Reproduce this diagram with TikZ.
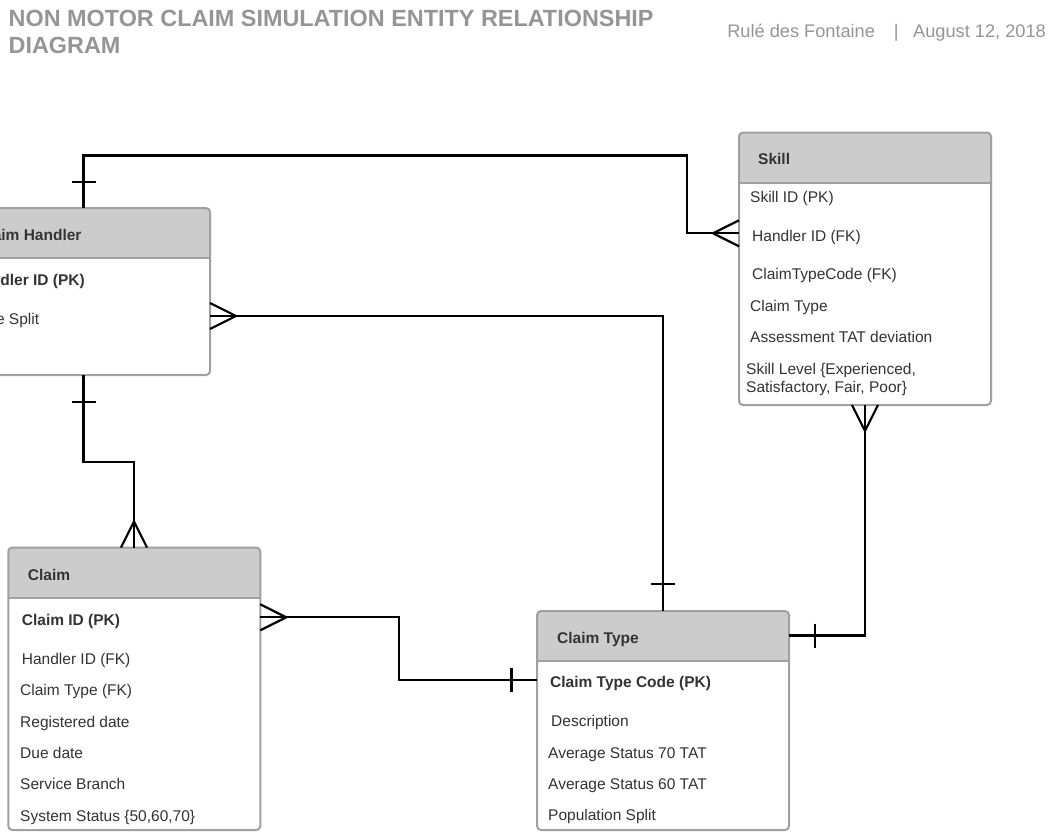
\documentclass[tikz,border=0pt]{standalone}
\usepackage{fontspec}
\setmainfont{Liberation Sans}
\usetikzlibrary{calc}

\definecolor{inkgray}{HTML}{333333}
\definecolor{headgray}{HTML}{CCCCCC}
\definecolor{edgegray}{HTML}{A0A0A0}
\definecolor{titlegray}{HTML}{959595}

\tikzset{
  entity/.style={rectangle, draw=edgegray, line width=2pt, rounded corners=4pt,
    fill=white, anchor=north west, inner sep=0pt, outer sep=0pt,
    minimum width=252pt,
    path picture={
      \fill[headgray, sharp corners] (path picture bounding box.north west)
        rectangle ([yshift=-50pt]path picture bounding box.north east);
      \draw[edgegray, line width=2pt, sharp corners]
        ([yshift=-50pt]path picture bounding box.north west) --
        ([yshift=-50pt]path picture bounding box.north east);}},
  conn/.style={draw=black, line width=2.2pt},
  attr/.style={anchor=base west, inner sep=0pt, text=inkgray,
    font=\fontsize{15.5}{17.8}\selectfont},
  pkattr/.style={attr, font=\fontsize{15.5}{17.8}\selectfont\bfseries},
  crowfoot/.pic={\draw[conn] (-26,0) -- (0,13) (-26,0) -- (0,-13);},
  barmark/.pic={\draw[conn] (0,-12) -- (0,12);},
}

\begin{document}
\begin{tikzpicture}[x=1pt, y=-1pt]
\useasboundingbox (0,0) rectangle (1059,832);
\clip (0,0) rectangle (1059,832);

% heading
\node[anchor=base west, inner sep=0pt, text=titlegray,
      font=\fontsize{23.4}{27}\selectfont\bfseries] (title1) at (8.5,26.5)
      {NON MOTOR CLAIM SIMULATION ENTITY RELATIONSHIP};
\node[anchor=base west, inner sep=0pt, text=titlegray,
      font=\fontsize{23.4}{27}\selectfont\bfseries] (title2) at (8.5,53.3)
      {DIAGRAM};
\node[anchor=base east, inner sep=0pt, text=titlegray,
      font=\fontsize{18.2}{21}\selectfont] (byline) at (1046,37.3)
      {Rulé des Fontaine\hspace{19pt}|\hspace{14.5pt}August 12, 2018};

% entity boxes
\node[entity, minimum height=167pt]   (handler) at (-42,208)   {};
\node[entity, minimum height=272.5pt] (skill)   at (739,132.5) {};
\node[entity, minimum height=219pt]   (ctype)   at (537,611)   {};
\node[entity, minimum height=282.5pt] (claim)   at (8.3,547.5) {};

% Claim Handler (left part runs off the page)
\node[pkattr, anchor=base east] (hT) at (81.7,240.5) {Claim Handler};
\node[pkattr, anchor=base east] (h1) at (85,285.5) {Handler ID (PK)};
\node[attr, anchor=base east]   (h2) at (39.3,324) {e Split};

% Skill
\node[pkattr] (sT) at (758,164.5) {Skill};
\node[attr] (s1) at (750,202)   {Skill ID (PK)};
\node[attr] (s2) at (752,241)   {Handler ID (FK)};
\node[attr] (s3) at (752,279.5) {ClaimTypeCode (FK)};
\node[attr] (s4) at (750,311)   {Claim Type};
\node[attr] (s5) at (750,342.5) {Assessment TAT deviation};
\node[attr] (s6) at (746,374.5) {Skill Level \{Experienced,};
\node[attr] (s7) at (746,392)   {Satisfactory, Fair, Poor\}};

% Claim Type
\node[pkattr] (cT) at (557,643)   {Claim Type};
\node[pkattr] (c1) at (550,687)   {Claim Type Code (PK)};
\node[attr]   (c2) at (551,726.5) {Description};
\node[attr]   (c3) at (548,758)   {Average Status 70 TAT};
\node[attr]   (c4) at (548,789)   {Average Status 60 TAT};
\node[attr]   (c5) at (548,820.5) {Population Split};

% Claim
\node[pkattr] (kT) at (27.7,580) {Claim};
\node[pkattr] (k1) at (21.7,625) {Claim ID (PK)};
\node[attr]   (k2) at (21.7,664) {Handler ID (FK)};
\node[attr]   (k3) at (20,695.5) {Claim Type (FK)};
\node[attr]   (k4) at (20,727)   {Registered date};
\node[attr]   (k5) at (20,758)   {Due date};
\node[attr]   (k6) at (20,789.5) {Service Branch};
\node[attr]   (k7) at (20,821)   {System Status \{50,60,70\}};

% connector end points on the boxes
\coordinate (hTop)     at ($(handler.north west)+(125.5,0)$);
\coordinate (hBot)     at ($(handler.south west)+(125.5,0)$);
\coordinate (hRight)   at ($(handler.north east)+(0,108)$);
\coordinate (skillL)   at ($(skill.north west)+(0,100.8)$);
\coordinate (skillB)   at ($(skill.south west)+(126,0)$);
\coordinate (ctTop)    at ($(ctype.north west)+(126.3,0)$);
\coordinate (ctL)      at ($(ctype.north west)+(0,69)$);
\coordinate (ctR)      at ($(ctype.north east)+(0,24.5)$);
\coordinate (claimTop) at ($(claim.north west)+(125.7,0)$);
\coordinate (claimR)   at ($(claim.north east)+(0,69.8)$);

% Claim Handler -- Skill
\draw[conn] (hTop) |- (687.3,155.5) |- (skillL);
\pic[rotate=90] at ($(hTop)+(0,-26.3)$) {barmark};
\pic at (skillL) {crowfoot};

% Claim Handler -- Claim Type
\draw[conn] (hRight) -| (ctTop);
\pic[rotate=180] at (hRight) {crowfoot};
\pic[rotate=90] at ($(ctTop)+(0,-27)$) {barmark};

% Claim Handler -- Claim
\draw[conn] (hBot) |- ($(claimTop)+(0,-85.8)$) -- (claimTop);
\pic[rotate=90] at ($(hBot)+(0,26.7)$) {barmark};
\pic[rotate=-90] at (claimTop) {crowfoot};

% Claim -- Claim Type
\draw[conn] (claimR) -| ($(ctL)+(-138,0)$) -- (ctL);
\pic[rotate=180] at (claimR) {crowfoot};
\pic at ($(ctL)+(-25.5,0)$) {barmark};

% Skill -- Claim Type
\draw[conn] (skillB) |- (ctR);
\pic[rotate=90] at (skillB) {crowfoot};
\pic at ($(ctR)+(26,0)$) {barmark};
\end{tikzpicture}
\end{document}
